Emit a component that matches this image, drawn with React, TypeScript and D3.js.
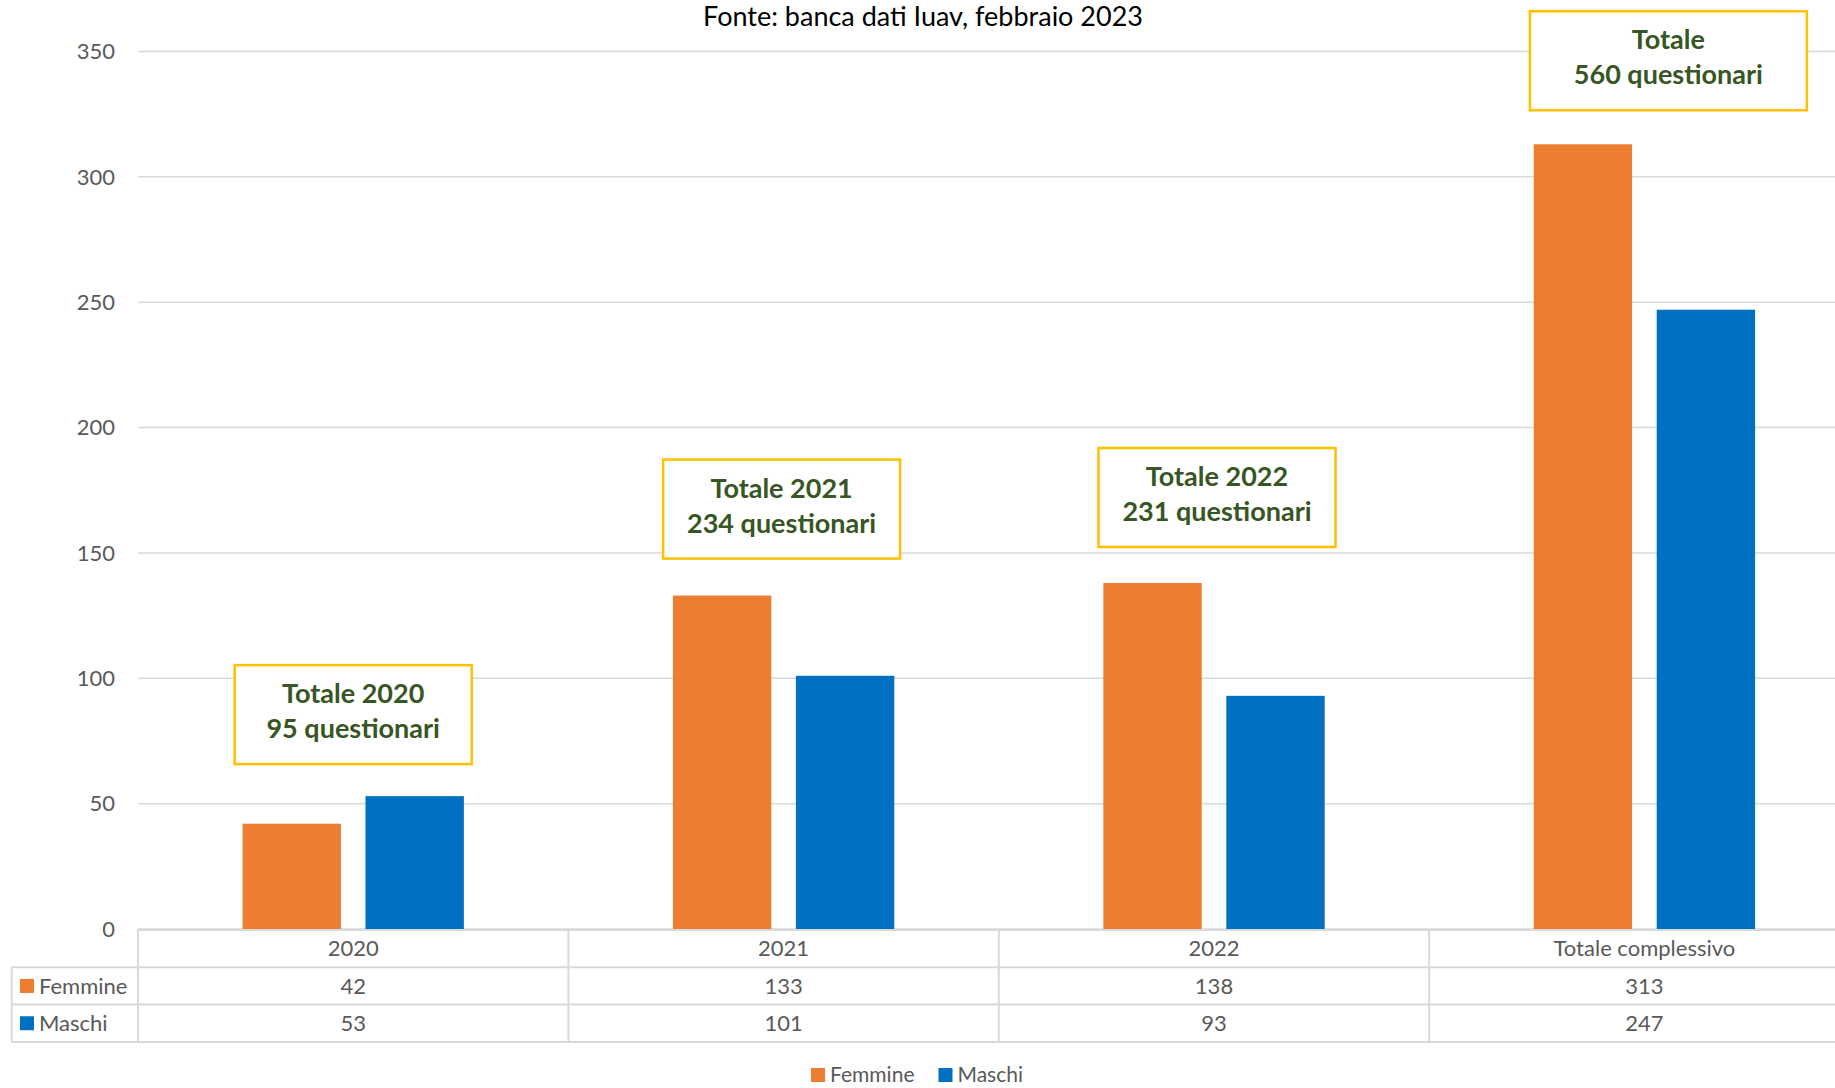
import React, { useEffect, useRef } from 'react';
import * as d3 from 'd3';

const categories = ['2020', '2021', '2022', 'Totale complessivo'];
const seriesNames = ['Femmine', 'Maschi'];
const femmine = [42, 133, 138, 313];
const maschi = [53, 101, 93, 247];
const yTicks = [0, 50, 100, 150, 200, 250, 300, 350];
const annotationLines = [
  ['Totale 2020', '95 questionari'],
  ['Totale 2021', '234 questionari'],
  ['Totale 2022', '231 questionari'],
  ['Totale', '560 questionari'],
];
const chartTitle = 'Fonte: banca dati Iuav, febbraio 2023';

const colors = ['#ED7D31', '#0070C0'];
const FONT = "Lato, 'Open Sans', sans-serif";

const App: React.FC = () => {
  const svgRef = useRef<SVGSVGElement>(null);

  useEffect(() => {
    if (!svgRef.current) return;
    const svg = d3.select(svgRef.current);
    svg.selectAll('*').remove();

    const width = 1835;
    const height = 1088;
    const left = 138;
    const catW = 430.4;
    const series = [femmine, maschi];

    svg.attr('width', width).attr('height', height);

    const x0 = d3
      .scaleBand<string>()
      .domain(categories)
      .range([left, left + catW * categories.length])
      .padding(0);

    const x1 = d3
      .scaleBand<string>()
      .domain(seriesNames)
      .range([0, x0.bandwidth()])
      .paddingInner(0.2)
      .paddingOuter(0.85);

    const y = d3.scaleLinear().domain([0, 350]).range([929, 51.5]);

    // title
    svg.append('text')
      .attr('x', 923)
      .attr('y', 26)
      .attr('text-anchor', 'middle')
      .style('font-family', FONT)
      .style('font-size', '27px')
      .style('fill', '#000')
      .text(chartTitle);

    // gridlines
    svg.append('g')
      .selectAll('line')
      .data(yTicks)
      .enter()
      .append('line')
      .attr('x1', left)
      .attr('x2', width)
      .attr('y1', d => y(d))
      .attr('y2', d => y(d))
      .attr('stroke', '#D9D9D9')
      .attr('stroke-width', 1.5);

    // y labels
    svg.append('g')
      .selectAll('text')
      .data(yTicks)
      .enter()
      .append('text')
      .attr('x', 115)
      .attr('y', d => y(d))
      .attr('dy', '0.35em')
      .attr('text-anchor', 'end')
      .style('font-family', FONT)
      .style('font-size', '22px')
      .style('fill', '#595959')
      .text(d => d);

    // bars
    const groups = svg.append('g')
      .selectAll('g')
      .data(categories)
      .enter()
      .append('g')
      .attr('transform', c => `translate(${x0(c)},0)`);

    groups.selectAll('rect')
      .data((c, i) => seriesNames.map((s, j) => ({ s, v: series[j][i], j })))
      .enter()
      .append('rect')
      .attr('x', d => x1(d.s) || 0)
      .attr('width', x1.bandwidth())
      .attr('y', d => y(d.v))
      .attr('height', d => y(0) - y(d.v))
      .attr('fill', d => colors[d.j]);

    // annotation boxes
    const boxW = [237, 237, 237, 277];
    const boxDx = [0, -2, 3, 24];
    const boxGap = [32, 37, 36, 34];
    const boxH = 99;
    categories.forEach((c, i) => {
      const cx = (x0(c) || 0) + x0.bandwidth() / 2 + boxDx[i];
      const top = y(Math.max(femmine[i], maschi[i])) - boxGap[i] - boxH;
      const g = svg.append('g');
      g.append('rect')
        .attr('x', cx - boxW[i] / 2)
        .attr('y', top)
        .attr('width', boxW[i])
        .attr('height', boxH)
        .attr('fill', '#fff')
        .attr('stroke', '#FFC000')
        .attr('stroke-width', 2.5);
      annotationLines[i].forEach((line, k) => {
        g.append('text')
          .attr('x', cx)
          .attr('y', top + 38 + k * 35)
          .attr('text-anchor', 'middle')
          .style('font-family', FONT)
          .style('font-size', '27px')
          .style('font-weight', 'bold')
          .style('fill', '#375623')
          .text(line);
      });
    });

    // data table
    const tTop = 930;
    const rowH = 37.3;
    const tLeft = 11.7;
    const tRight = left + catW * categories.length;
    const tg = svg.append('g');
    const border = '#D9D9D9';

    tg.append('line').attr('x1', left).attr('x2', tRight).attr('y1', tTop).attr('y2', tTop);
    [1, 2, 3].forEach(r => {
      tg.append('line')
        .attr('x1', tLeft).attr('x2', tRight)
        .attr('y1', tTop + r * rowH).attr('y2', tTop + r * rowH);
    });
    tg.append('line').attr('x1', tLeft).attr('x2', tLeft).attr('y1', tTop + rowH).attr('y2', tTop + 3 * rowH);
    categories.forEach(c => {
      const xx = x0(c) || 0;
      tg.append('line').attr('x1', xx).attr('x2', xx).attr('y1', tTop).attr('y2', tTop + 3 * rowH);
    });
    tg.selectAll('line').attr('stroke', border).attr('stroke-width', 2);

    const cellText = (sel: d3.Selection<SVGTextElement, unknown, null, undefined>) =>
      sel.style('font-family', FONT).style('font-size', '22px').style('fill', '#595959');

    categories.forEach((c, i) => {
      const cx = (x0(c) || 0) + x0.bandwidth() / 2;
      cellText(tg.append('text')
        .attr('x', cx).attr('y', tTop + rowH / 2).attr('dy', '0.35em')
        .attr('text-anchor', 'middle').text(c));
      series.forEach((vals, j) => {
        cellText(tg.append('text')
          .attr('x', cx).attr('y', tTop + rowH * (j + 1.5)).attr('dy', '0.35em')
          .attr('text-anchor', 'middle').text(vals[i]));
      });
    });

    seriesNames.forEach((s, j) => {
      const cy = tTop + rowH * (j + 1.5);
      tg.append('rect')
        .attr('x', 20).attr('y', cy - 7).attr('width', 14).attr('height', 14)
        .attr('fill', colors[j]);
      cellText(tg.append('text')
        .attr('x', 39).attr('y', cy).attr('dy', '0.35em').text(s));
    });

    // bottom legend
    const lg = svg.append('g');
    let lx = 0;
    seriesNames.forEach((s, j) => {
      lg.append('rect')
        .attr('x', lx).attr('y', 1068).attr('width', 14).attr('height', 14)
        .attr('fill', colors[j]);
      const t = lg.append('text')
        .attr('x', lx + 19).attr('y', 1075).attr('dy', '0.35em')
        .style('font-family', FONT).style('font-size', '21px').style('fill', '#595959')
        .text(s);
      const len = (t.node() as SVGTextElement).getComputedTextLength();
      lx += 19 + len + 24;
    });
    const legendW = lx - 24;
    lg.attr('transform', `translate(${917 - legendW / 2},0)`);
  }, []);

  return (
    <svg ref={svgRef} style={{ position: 'absolute', left: 0, top: 0, background: '#fff' }}></svg>
  );
};

export default App;
